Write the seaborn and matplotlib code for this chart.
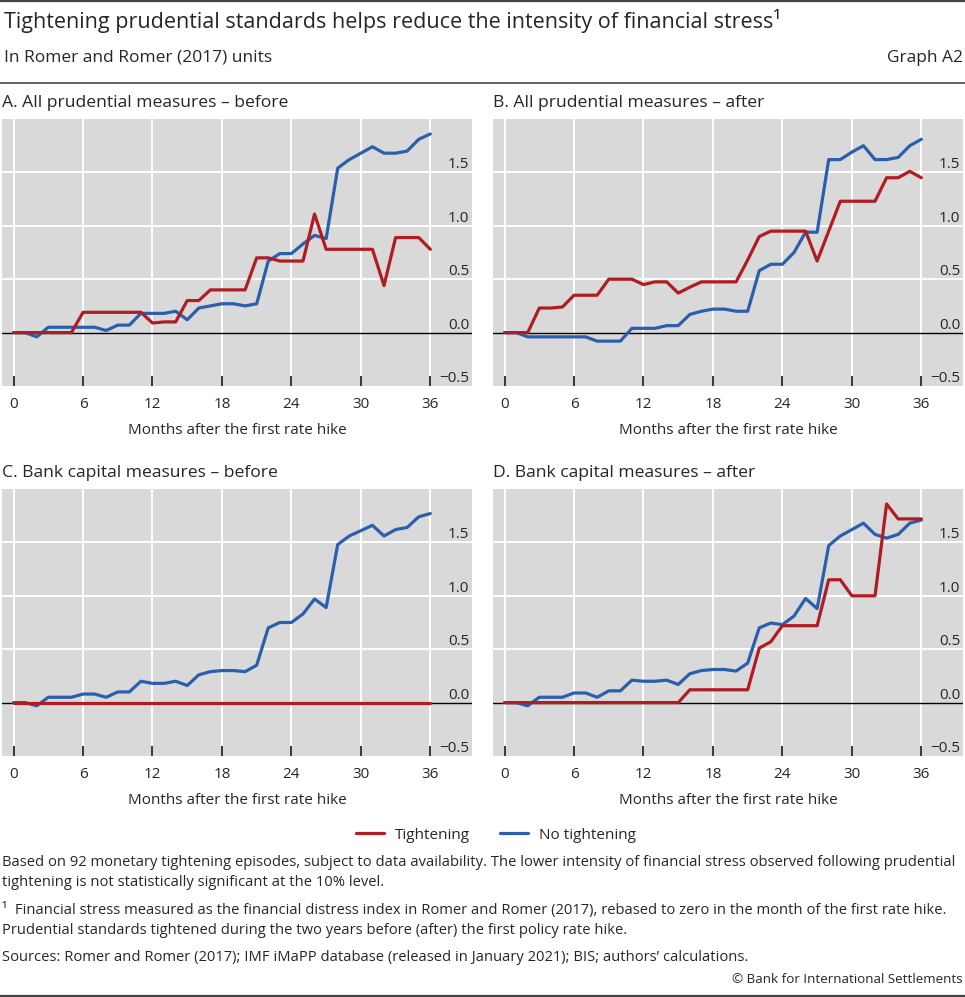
import matplotlib
matplotlib.use("Agg")
import matplotlib.pyplot as plt
from matplotlib.lines import Line2D
import seaborn as sns
import pandas as pd

# ---------------- data ----------------
months = list(range(0, 37))
series_names = ["Tightening", "No tightening"]

a_tight = [0, 0, 0, 0, 0, 0, 0.19, 0.19, 0.19, 0.19, 0.19, 0.19, 0.09, 0.10, 0.10, 0.30, 0.30,
           0.40, 0.40, 0.40, 0.40, 0.70, 0.70, 0.67, 0.67, 0.67, 1.11, 0.78, 0.78, 0.78, 0.78,
           0.78, 0.44, 0.89, 0.89, 0.89, 0.78]
a_none = [0, 0, -0.04, 0.05, 0.05, 0.05, 0.05, 0.05, 0.02, 0.07, 0.07, 0.18, 0.18, 0.18, 0.20,
          0.12, 0.23, 0.25, 0.27, 0.27, 0.25, 0.27, 0.67, 0.74, 0.74, 0.83, 0.91, 0.88, 1.54,
          1.62, 1.68, 1.74, 1.68, 1.68, 1.70, 1.81, 1.86]

b_tight = [0, 0, 0, 0.23, 0.23, 0.24, 0.35, 0.35, 0.35, 0.50, 0.50, 0.50, 0.45, 0.475, 0.475,
           0.37, 0.425, 0.475, 0.475, 0.475, 0.475, 0.68, 0.90, 0.95, 0.95, 0.95, 0.95, 0.67,
           0.95, 1.23, 1.23, 1.23, 1.23, 1.45, 1.45, 1.51, 1.45]
b_none = [0, 0, -0.04, -0.04, -0.04, -0.04, -0.04, -0.04, -0.08, -0.08, -0.08, 0.04, 0.04, 0.04,
          0.065, 0.065, 0.17, 0.20, 0.22, 0.22, 0.20, 0.20, 0.58, 0.64, 0.64, 0.75, 0.94, 0.94,
          1.62, 1.62, 1.69, 1.75, 1.62, 1.62, 1.64, 1.75, 1.81]

c_tight = [0, 0, 0, 0, 0, 0, 0, 0, 0, 0, 0, 0, 0, 0, 0, 0, 0, 0, 0, 0, 0, 0, 0, 0, 0, 0, 0, 0,
           0, 0, 0, 0, 0, 0, 0, 0, 0]
c_none = [0, 0, -0.03, 0.05, 0.05, 0.05, 0.08, 0.08, 0.05, 0.10, 0.10, 0.20, 0.18, 0.18, 0.20,
          0.16, 0.26, 0.29, 0.30, 0.30, 0.29, 0.35, 0.70, 0.75, 0.75, 0.83, 0.97, 0.89, 1.48,
          1.56, 1.61, 1.66, 1.56, 1.62, 1.64, 1.74, 1.77]

d_tight = [0, 0, 0, 0, 0, 0, 0, 0, 0, 0, 0, 0, 0, 0, 0, 0, 0.12, 0.12, 0.12, 0.12, 0.12, 0.12,
           0.51, 0.57, 0.72, 0.72, 0.72, 0.72, 1.15, 1.15, 1.00, 1.00, 1.00, 1.86, 1.72, 1.72,
           1.72]
d_none = [0, 0, -0.03, 0.05, 0.05, 0.05, 0.09, 0.09, 0.05, 0.11, 0.11, 0.21, 0.20, 0.20, 0.21,
          0.17, 0.27, 0.30, 0.31, 0.31, 0.295, 0.37, 0.70, 0.745, 0.73, 0.81, 0.975, 0.88, 1.47,
          1.56, 1.62, 1.68, 1.575, 1.54, 1.575, 1.68, 1.71]

panel_titles = ["A. All prudential measures – before", "B. All prudential measures – after",
                "C. Bank capital measures – before", "D. Bank capital measures – after"]
x_ticks = [0, 6, 12, 18, 24, 30, 36]
y_ticks = [-0.5, 0.0, 0.5, 1.0, 1.5]
y_tick_labels = ["−0.5", "0.0", "0.5", "1.0", "1.5"]
x_label = "Months after the first rate hike"

title = "Tightening prudential standards helps reduce the intensity of financial stress¹"
subtitle = "In Romer and Romer (2017) units"
graph_id = "Graph A2"
notes = [
    "Based on 92 monetary tightening episodes, subject to data availability. The lower intensity of financial stress observed following prudential",
    "tightening is not statistically significant at the 10% level.",
    "¹  Financial stress measured as the financial distress index in Romer and Romer (2017), rebased to zero in the month of the first rate hike.",
    "Prudential standards tightened during the two years before (after) the first policy rate hike.",
    "Sources: Romer and Romer (2017); IMF iMaPP database (released in January 2021); BIS; authors’ calculations.",
]
copyright_txt = "© Bank for International Settlements"

# ---------------- style ----------------
sns.set_theme(style="white")
plt.rcParams["font.family"] = ["Open Sans", "DejaVu Sans"]

RED = "#b01c22"
BLUE = "#2a5fad"
BG = "#d9d9d9"
palette = {"Tightening": RED, "No tightening": BLUE}

W, H = 965, 997
fig = plt.figure(figsize=(W / 100, H / 100), dpi=100)
fig.patch.set_facecolor("white")


def fx(px):
    return px / W


def fy(py):
    return 1 - py / H


# axes boxes in pixels: left, top, right, bottom
boxes = [(2, 119, 472, 386), (493, 119, 963, 386), (2, 489, 472, 756), (493, 489, 963, 756)]
panel_data = [(a_tight, a_none), (b_tight, b_none), (c_tight, c_none), (d_tight, d_none)]

for (l, t, r, b), ptitle, (tight, none) in zip(boxes, panel_titles, panel_data):
    ax = fig.add_axes([fx(l), fy(b), fx(r - l), (b - t) / H])
    ax.set_facecolor(BG)
    df = pd.DataFrame({
        "month": months + months,
        "value": none + tight,
        "series": ["No tightening"] * len(months) + ["Tightening"] * len(months),
    })
    for xv in x_ticks:
        ax.axvline(xv, color="white", lw=1.4, zorder=0.5)
    for yv in [0.5, 1.0, 1.5]:
        ax.axhline(yv, color="white", lw=1.4, zorder=0.5)
    ax.axhline(0, color="black", lw=1.0, zorder=1)
    sns.lineplot(data=df, x="month", y="value", hue="series",
                 hue_order=["No tightening", "Tightening"], palette=palette,
                 linewidth=2.3, ax=ax, legend=False, zorder=3)
    ax.set_xlim(-1.0, 39.6)
    ax.set_ylim(-0.5, 2.0)
    for s in ax.spines.values():
        s.set_visible(False)
    ax.set_xticks(x_ticks)
    ax.set_xticklabels([str(v) for v in x_ticks], fontsize=11)
    ax.tick_params(axis="x", direction="in", length=7.5, width=1.1, color="black",
                   pad=8, bottom=True)
    ax.yaxis.tick_right()
    ax.set_yticks(y_ticks)
    ax.set_yticklabels(y_tick_labels, fontsize=11)
    ax.tick_params(axis="y", length=0, pad=-2)
    for lab in ax.get_yticklabels():
        lab.set_horizontalalignment("right")
        lab.set_verticalalignment("bottom")
    ax.set_xlabel(x_label, fontsize=11, labelpad=8)
    ax.set_ylabel("")
    ax.grid(False)
    fig.text(fx(l), fy(t - 16), ptitle, fontsize=12.6, ha="left", va="center")

# header
fig.text(fx(4), fy(21), title, fontsize=15.5, ha="left", va="center")
fig.text(fx(4), fy(58), subtitle, fontsize=12.5, ha="left", va="center")
fig.text(fx(963), fy(58), graph_id, fontsize=12.5, ha="right", va="center")
fig.add_artist(Line2D([0, 1], [fy(1), fy(1)], color="#444444", lw=1.6, transform=fig.transFigure))
fig.add_artist(Line2D([0, 1], [fy(83), fy(83)], color="#555555", lw=1.3, transform=fig.transFigure))
fig.add_artist(Line2D([0, 1], [fy(995.5), fy(995.5)], color="#444444", lw=1.6, transform=fig.transFigure))

# legend
handles = [Line2D([0], [0], color=RED, lw=2.3), Line2D([0], [0], color=BLUE, lw=2.3)]
fig.legend(handles, series_names, loc="center", bbox_to_anchor=(fx(496), fy(835)), ncol=2,
           frameon=False, fontsize=11, handlelength=1.8, columnspacing=2.0, handletextpad=0.7)

# notes
note_y = [862, 882, 910, 930, 957]
for txt, yy in zip(notes, note_y):
    fig.text(fx(2), fy(yy), txt, fontsize=10.65, ha="left", va="center")
fig.text(fx(963), fy(979), copyright_txt, fontsize=9.6, ha="right", va="center")

fig.savefig("out.png", dpi=100)
